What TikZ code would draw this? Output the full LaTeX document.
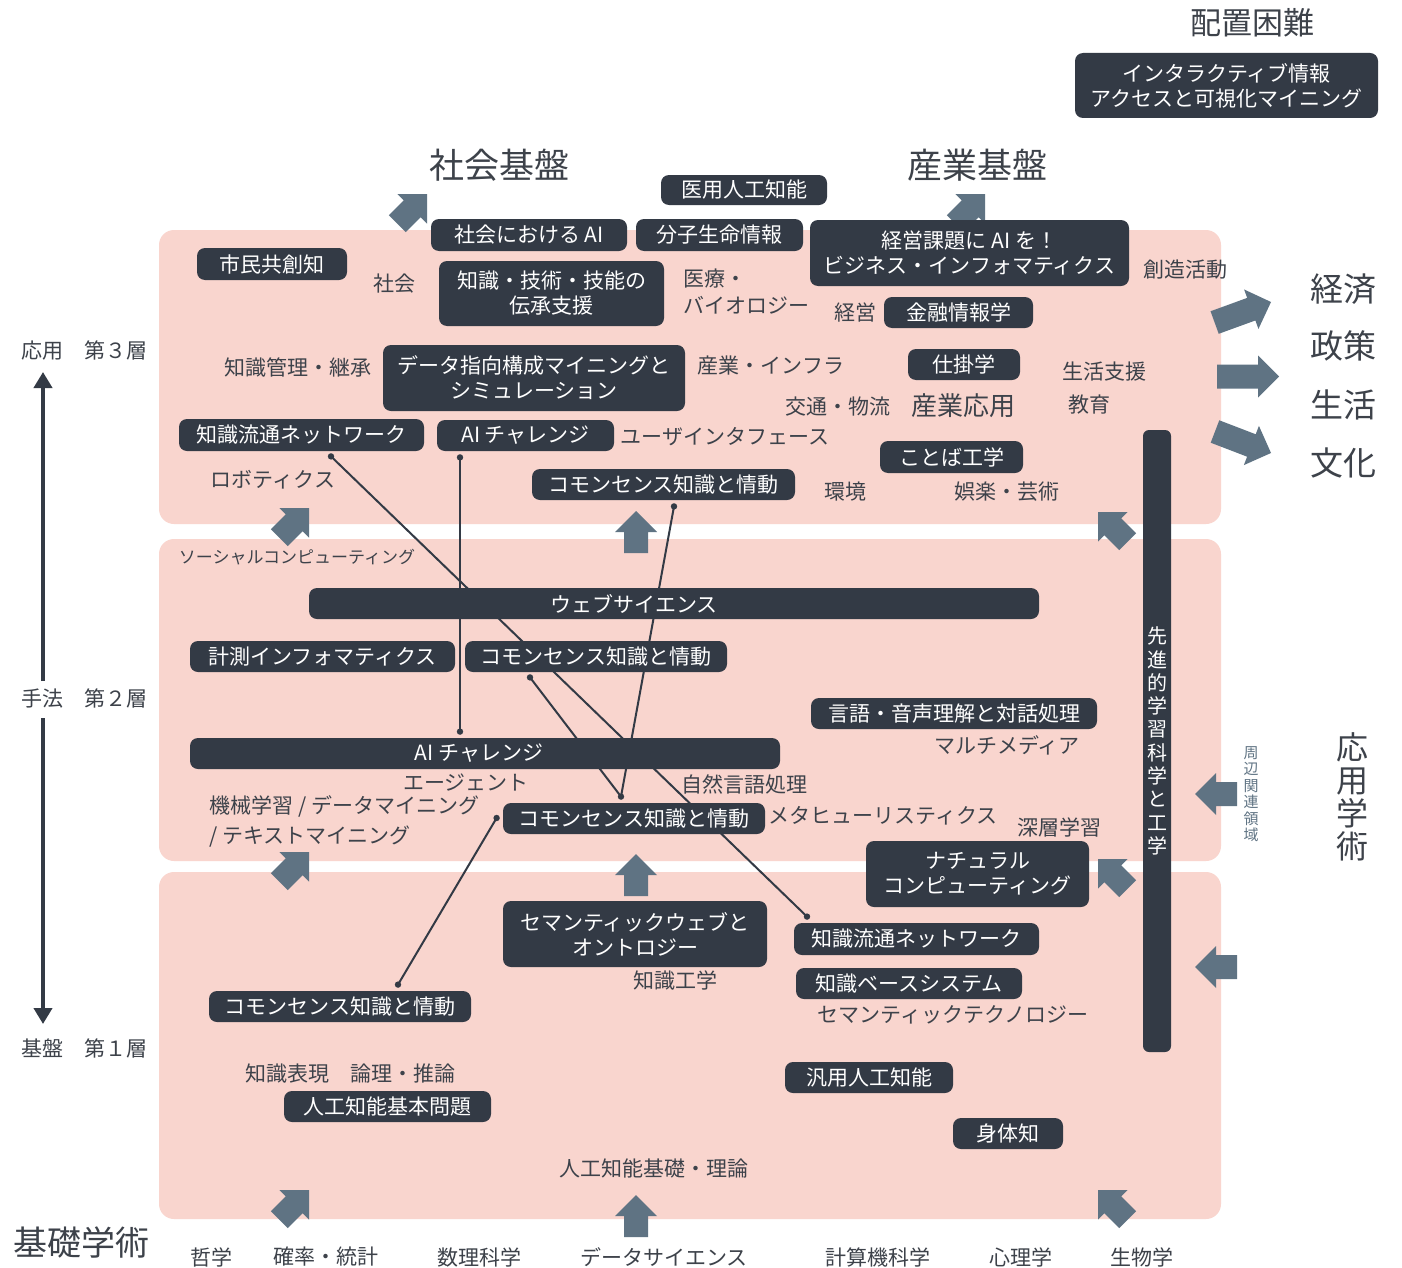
\documentclass[tikz,border=0pt]{standalone}
\usepackage{fontspec}
\setmainfont{Noto Sans CJK JP}
\usetikzlibrary{arrows.meta,calc}
\definecolor{pinkc}{HTML}{F9D5CE}
\definecolor{boxc}{HTML}{333A45}
\definecolor{arrowc}{HTML}{5F7383}
\definecolor{textc}{HTML}{3D424A}
\pgfdeclarelayer{bg}\pgfdeclarelayer{lines}
\pgfsetlayers{bg,lines,main}
\begin{document}
\begin{tikzpicture}[x=0.5pt,y=-0.5pt,
 panel/.style={fill=pinkc, rounded corners=7.5pt},
 dbox/.style 2 args={fill=boxc, text=white, rounded corners=4pt, inner sep=0pt,
   minimum width={#1*0.5pt}, minimum height={#2*0.5pt}, align=center,
   font=\fontsize{10.5pt}{12.5pt}\selectfont},
 boxlbl/.style={text=white, inner sep=0pt, font=\fontsize{10.5pt}{12.5pt}\selectfont},
 lbl/.style={text=textc, inner sep=0pt, align=center, font=\fontsize{10.5pt}{13pt}\selectfont},
 head/.style={text=textc, inner sep=0pt, align=center, font=\fontsize{17.5pt}{20pt}\selectfont},
 small/.style={text=textc, inner sep=0pt, align=center, font=\fontsize{8.5pt}{10pt}\selectfont},
 conn/.style={draw=boxc, line width=1pt},
 dotc/.style={fill=boxc},
 axisline/.style={draw=boxc, line width=2.3pt, -{Triangle[width=9pt,length=8pt]}},
 pics/fatarr/.style={code={\fill[arrowc] (0,0) -- (-21,21) -- (-21,12) -- (-#1,12) -- (-#1,-12) -- (-21,-12) -- (-21,-21) -- cycle;}}
]
\useasboundingbox (0,0) rectangle (1402,1268);
\begin{pgfonlayer}{bg}
\fill[white] (0,0) rectangle (1402,1268);
\fill[panel] (159,230) rectangle (1221,524);
\fill[panel] (159,539) rectangle (1221,861);
\fill[panel] (159,872) rectangle (1221,1219);
\end{pgfonlayer}

% block arrows
\pic[rotate=45] at (427,194) {fatarr=42};
\pic[rotate=45] at (985,194) {fatarr=42};
\pic[rotate=20] at (1271,302) {fatarr=60};
\pic[rotate=0] at (1279,376.5) {fatarr=62};
\pic[rotate=-21] at (1271,453) {fatarr=60};
\pic[rotate=45] at (309,508) {fatarr=42};
\pic[rotate=45] at (309,852) {fatarr=42};
\pic[rotate=45] at (309,1190) {fatarr=42};
\pic[rotate=90] at (636,511) {fatarr=42};
\pic[rotate=90] at (636,854) {fatarr=42};
\pic[rotate=90] at (636,1195) {fatarr=42};
\pic[rotate=135] at (1098,512) {fatarr=42};
\pic[rotate=135] at (1098,859) {fatarr=42};
\pic[rotate=135] at (1098,1190) {fatarr=42};
\pic[rotate=180] at (1195,794) {fatarr=42};
\pic[rotate=180] at (1195,967) {fatarr=42};

% dark boxes
\node[dbox={303}{65}] (interact) at (1226.5,85.5) {インタラクティブ情報\\アクセスと可視化マイニング};
\node[dbox={166}{30}] (iryoAI) at (744,190) {医用人工知能};
\node[dbox={196}{32}] (shakaiAI) at (529,235) {社会における AI};
\node[dbox={167}{32}] (bunshi) at (719.5,235) {分子生命情報};
\node[dbox={319}{66}] (keiei) at (969.5,253) {経営課題に AI を！\\ビジネス・インフォマティクス};
\node[dbox={150}{32}] (shimin) at (272,264) {市民共創知};
\node[dbox={225}{65}] (denshou) at (551.5,293.5) {知識・技術・技能の\\伝承支援};
\node[dbox={149}{31}] (kinyu) at (958.5,312.5) {金融情報学};
\node[dbox={302}{66}] (dmine) at (534,378) {データ指向構成マイニングと\\シミュレーション};
\node[dbox={112}{31}] (shikake) at (964,364.5) {仕掛学};
\node[dbox={245}{32}] (knet3) at (301.5,435) {知識流通ネットワーク};
\node[dbox={177}{31}] (ai3) at (525.5,435.5) {AI チャレンジ};
\node[dbox={143}{32}] (kotoba) at (951.5,457) {ことば工学};
\node[dbox={263}{31}] (cs3) at (663.5,484.5) {コモンセンス知識と情動};
\node[dbox={730}{31}] (web) at (674,603.5) {};
\node[boxlbl] (webtxt) at (634,603.5) {ウェブサイエンス};
\node[dbox={265}{31}] (keisoku) at (322.5,656.5) {計測インフォマティクス};
\node[dbox={262}{31}] (cs2a) at (596,656.5) {コモンセンス知識と情動};
\node[dbox={286}{31}] (gengo) at (954,713.5) {言語・音声理解と対話処理};
\node[dbox={590}{31}] (ai2) at (485,753.5) {};
\node[boxlbl] (ai2txt) at (479,753.5) {AI チャレンジ};
\node[dbox={262}{31}] (cs2b) at (634,818.5) {コモンセンス知識と情動};
\node[dbox={223}{66}] (natural) at (977.5,874) {ナチュラル\\コンピューティング};
\node[dbox={264}{66}] (semantic) at (635,934) {セマンティックウェブと\\オントロジー};
\node[dbox={245}{32}] (knet1) at (916.5,939) {知識流通ネットワーク};
\node[dbox={226}{31}] (kbs) at (909,983.5) {知識ベースシステム};
\node[dbox={262}{31}] (cs1) at (340,1006.5) {コモンセンス知識と情動};
\node[dbox={207}{31}] (kihon) at (387.5,1106.5) {人工知能基本問題};
\node[dbox={168}{31}] (hanyou) at (869,1077.5) {汎用人工知能};
\node[dbox={110}{31}] (shintai) at (1008,1133.5) {身体知};
\node[dbox={28}{622}, rounded corners=3pt, font=\fontsize{10pt}{11.65pt}\selectfont] (bar) at (1157,741) {先\\進\\的\\学\\習\\科\\学\\と\\工\\学};

% connectors
\coordinate (d1a) at ([shift={(29.5,5)}]knet3.south);
\coordinate (d1b) at ([shift={(-109.5,-6)}]knet1.north);
\coordinate (d2a) at ([shift={(-65.5,6)}]ai3.south);
\coordinate (d2b) at ([shift={(-25,-6)}]ai2.north);
\coordinate (d3a) at ([shift={(10.5,6)}]cs3.south);
\coordinate (d3b) at ([shift={(-13,-6)}]cs2b.north);
\coordinate (d4a) at ([shift={(-66,5)}]cs2a.south);
\coordinate (d5a) at ([shift={(58,-6)}]cs1.north);
\coordinate (d5b) at ([shift={(-6,-0.5)}]cs2b.west);
\begin{pgfonlayer}{lines}
\draw[conn] (d1a) -- (d1b);
\draw[conn] (d2a) -- (d2b);
\draw[conn] (d3a) -- (d3b);
\draw[conn] (d4a) -- (d3b);
\draw[conn] (d5a) -- (d5b);
\foreach \p in {d1a,d1b,d2a,d2b,d3a,d3b,d4a,d5a,d5b} \fill[dotc] (\p) circle[radius=1.6pt];
\end{pgfonlayer}

% headings
\node[head, font=\fontsize{15.5pt}{18pt}\selectfont] (haichi) at (1252,23) {配置困難};
\node[head] (shakaikiban) at (499,165) {社会基盤};
\node[head] (sangyokiban) at (977,165) {産業基盤};
\node[head, font=\fontsize{17pt}{20pt}\selectfont] (kiso) at (81,1242) {基礎学術};
\node[head, font=\fontsize{16.5pt}{20pt}\selectfont] (keizai) at (1343,289) {経済};
\node[head, font=\fontsize{16.5pt}{20pt}\selectfont] (seisaku) at (1343,346) {政策};
\node[head, font=\fontsize{16.5pt}{20pt}\selectfont] (seikatsu) at (1343,405) {生活};
\node[head, font=\fontsize{16.5pt}{20pt}\selectfont] (bunka) at (1343,463) {文化};
\node[head, font=\fontsize{16pt}{16.5pt}\selectfont] (ouyougaku) at (1352,797) {応\\用\\学\\術};
\node[text=arrowc, inner sep=0pt, align=center, font=\fontsize{7.5pt}{8.25pt}\selectfont] (shuhen) at (1251,794) {周\\辺\\関\\連\\領\\域};

% plain labels
\node[lbl] (shakai) at (394,284) {社会};
\node[lbl, anchor=west, align=left, font=\fontsize{10.5pt}{13.5pt}\selectfont] (iryo) at (683,291.5) {医療・\\バイオロジー};
\node[lbl] (souzou) at (1185,270) {創造活動};
\node[lbl] (keieil) at (855,313) {経営};
\node[lbl] (kanri) at (298,368) {知識管理・継承};
\node[lbl] (infra) at (771,366) {産業・インフラ};
\node[lbl] (shien) at (1104,372) {生活支援};
\node[lbl] (koutsu) at (838,407) {交通・物流};
\node[lbl, font=\fontsize{13pt}{15pt}\selectfont] (sangyouyou) at (963,406) {産業応用};
\node[lbl] (kyouiku) at (1089,405) {教育};
\node[lbl] (ui) at (725,437) {ユーザインタフェース};
\node[lbl] (robo) at (273,480) {ロボティクス};
\node[lbl] (kankyo) at (845,492) {環境};
\node[lbl] (goraku) at (1007,492) {娯楽・芸術};
\node[small] (social) at (297,557) {ソーシャルコンピューティング};
\node[lbl] (multi) at (1007,745) {マルチメディア};
\node[lbl] (nlp) at (744,784) {自然言語処理};
\node[lbl] (agent) at (466,783) {エージェント};
\node[lbl, anchor=west, align=left, font=\fontsize{10.5pt}{15pt}\selectfont] (ml) at (209,821) {機械学習 / データマイニング\\/ テキストマイニング};
\node[lbl] (meta) at (883,816) {メタヒューリスティクス};
\node[lbl] (deep) at (1059,827) {深層学習};
\node[lbl] (chishikikougaku) at (675,981) {知識工学};
\node[lbl] (semtech) at (953,1015) {セマンティックテクノロジー};
\node[lbl] (hyougen) at (350,1074) {知識表現　論理・推論};
\node[lbl] (kisoriron) at (654,1168) {人工知能基礎・理論};
\node[lbl] (tetsu) at (211,1257) {哲学};
\node[lbl] (kakuritsu) at (326,1257) {確率・統計};
\node[lbl] (suuri) at (479,1257) {数理科学};
\node[lbl] (datasci) at (664,1257) {データサイエンス};
\node[lbl] (keisanki) at (878,1257) {計算機科学};
\node[lbl] (shinri) at (1021,1257) {心理学};
\node[lbl] (seibutsu) at (1142,1257) {生物学};

% left axis
\node[lbl] (layer3) at (84,351) {応用　第３層};
\node[lbl] (layer2) at (84,698) {手法　第２層};
\node[lbl] (layer1) at (84,1048) {基盤　第１層};
\coordinate (axtop) at (43,372);
\coordinate (axmidA) at (43,681);
\coordinate (axmidB) at (43,718);
\coordinate (axbot) at (43,1024);
\draw[axisline] (axmidA) -- (axtop);
\draw[axisline] (axmidB) -- (axbot);
\end{tikzpicture}
\end{document}
